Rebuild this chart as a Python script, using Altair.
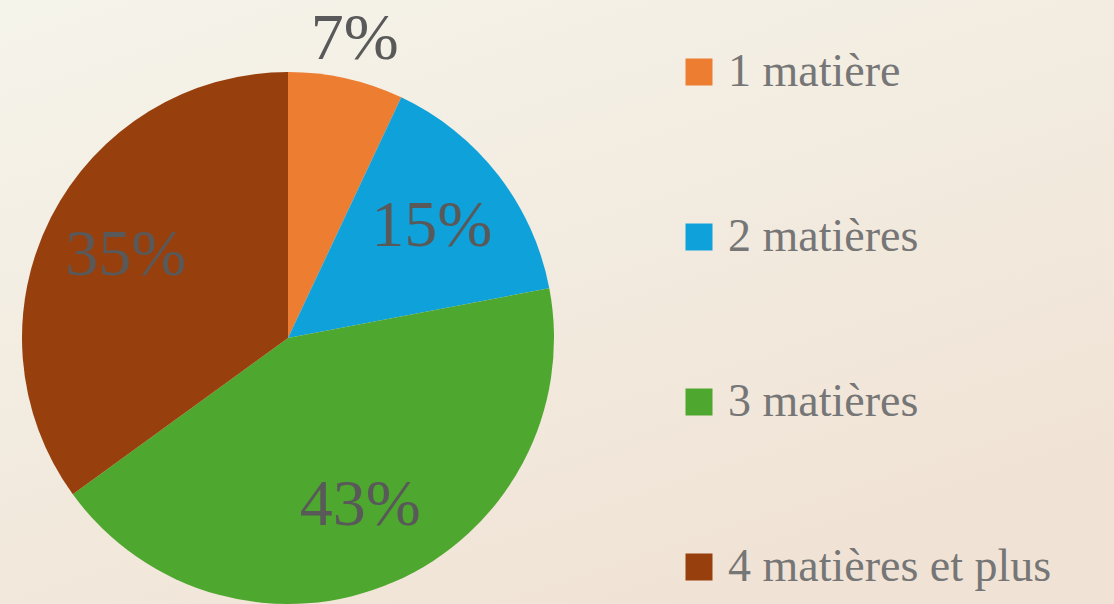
import altair as alt
import pandas as pd
import math

categories = ["1 matière", "2 matières", "3 matières", "4 matières et plus"]
values = [7, 15, 43, 35]
labels = ["7%", "15%", "43%", "35%"]
colors = ["#ED7D31", "#0FA1D9", "#4EA72E", "#983F0E"]

df = pd.DataFrame({
    "cat": categories,
    "value": values,
    "label": labels,
    "idx": list(range(len(categories))),
})

CX, CY, R = 288, 338, 266
TOTAL = sum(values)

bg = alt.Chart(alt.Data(values=[{"a": 1}])).mark_rect(
    color=alt.Gradient(
        gradient="linear",
        stops=[alt.GradientStop(color="#f5f4eb", offset=0),
               alt.GradientStop(color="#f0e3d5", offset=1)],
        x1=0, y1=0, x2=0.6, y2=1,
    )
).encode(x=alt.value(0), x2=alt.value(1114), y=alt.value(0), y2=alt.value(604))

arcs = alt.Chart(df).mark_arc(outerRadius=R, x=CX, y=CY).encode(
    theta=alt.Theta("value:Q", stack=True, scale=alt.Scale(domain=[0, TOTAL], range=[0, 2 * math.pi])),
    order=alt.Order("idx:Q"),
    color=alt.Color(
        "cat:N",
        scale=alt.Scale(domain=categories, range=colors),
        sort=categories,
        legend=alt.Legend(
            title=None,
            orient="none",
            legendX=676,
            legendY=49,
            symbolType="square",
            symbolSize=729,
            symbolStrokeWidth=0,
            symbolOpacity=1,
            labelFont="Liberation Serif",
            labelFontSize=46,
            labelColor="#767676",
            labelOffset=6,
            rowPadding=119,
            labelLimit=500,
        ),
    ),
)

texts = alt.Chart(df).transform_window(
    cum="sum(value)", sort=[alt.SortField("idx")], frame=[None, 0]
).transform_calculate(
    mid="datum.cum - datum.value / 2",
    r="datum.value < 10 ? 306 : 182",
).mark_text(
    font="Liberation Serif", fontSize=66, color="#595959", baseline="middle", align="center",
    x=CX, y=CY,
).encode(
    theta=alt.Theta("mid:Q", stack=None, scale=alt.Scale(domain=[0, TOTAL], range=[0, 2 * math.pi])),
    radius=alt.Radius("r:Q", scale=None),
    text="label:N",
)

chart = alt.layer(bg, arcs, texts).resolve_scale(theta="independent").properties(
    width=1114, height=604, padding=0,
    autosize=alt.AutoSizeParams(type="none"),
    background="#f3ede2",
).configure_view(stroke=None)

chart.save("out.html", embed_options={"renderer": "svg", "actions": False})
